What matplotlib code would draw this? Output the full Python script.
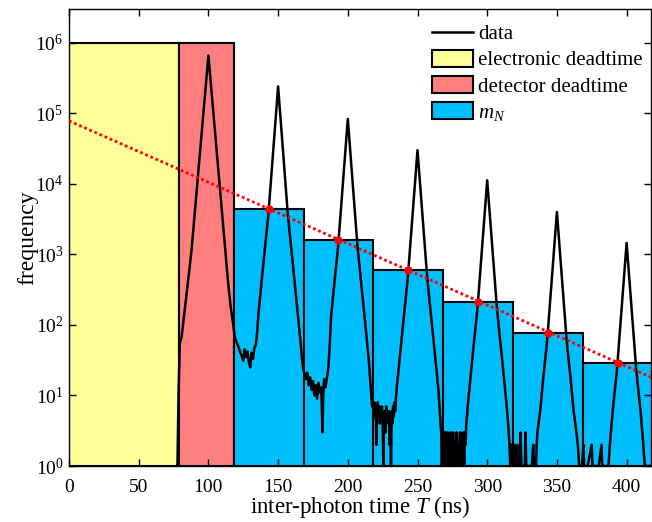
import matplotlib
matplotlib.use("Agg")
import matplotlib.pyplot as plt
import numpy as np
from matplotlib.lines import Line2D
from matplotlib.patches import Patch
from matplotlib.ticker import LogLocator, LogFormatterMathtext, NullLocator

plt.rcParams['font.family'] = ['Liberation Serif', 'DejaVu Serif']
plt.rcParams['mathtext.fontset'] = 'custom'
plt.rcParams['mathtext.rm'] = 'Liberation Serif'
plt.rcParams['mathtext.it'] = 'Liberation Serif:italic'
plt.rcParams['font.size'] = 14

# histogram bins (ns) and their heights
bar_edges = [0, 79, 118.3, 168.3, 218.3, 268.4, 318.5, 368.6, 418.7]
bar_heights = [1e6, 1e6, 4400, 1600, 590, 214, 76, 29]
bar_colors = ['#ffff99', '#ff7f7f', '#00bfff', '#00bfff', '#00bfff',
              '#00bfff', '#00bfff', '#00bfff']

# exponential fit (straight on log axis)
fit_x = [0, 418]
fit_y = [7.8e4, 18]

# measured inter-photon histogram
data_x = [77.7, 77.8, 78.6, 79.5, 80.8, 82, 84, 86, 88, 92, 96,
          100, 104, 108, 112, 114, 116, 118,
          119, 120, 121, 122, 123, 124, 125, 126, 127, 128, 129, 130, 131, 132, 133, 134,
          135, 136, 138, 140, 143,
          150, 157, 160, 162, 164, 166,
          167, 168, 169, 170, 171, 172, 173, 174, 175, 176, 177, 178, 179, 180, 181, 181.8,
          182.5, 183, 184, 185, 186, 187, 188, 190, 193,
          200, 207, 210, 212, 214, 215, 216,
          216.5, 217, 217.5, 218, 218.5, 219, 219.5, 220, 220.5, 221, 221.5, 222, 222.5,
          223, 223.5, 224, 224.5, 225, 225.5, 226, 226.5, 227, 227.5, 228, 228.5, 229,
          229.5, 230, 230.5, 231, 231.5, 232, 232.5, 233, 233.5, 234, 234.5, 235, 235.5,
          236, 238, 240, 243,
          250, 257, 260, 262, 264, 265, 266,
          266.5, 267, 267.5, 268, 268.5, 269, 269.5, 270, 270.5, 271, 271.5, 272, 272.5,
          273, 273.5, 274, 274.5, 275, 275.5, 276, 276.5, 277, 277.5, 278, 278.5, 279,
          279.5, 280, 280.5, 281, 281.5, 282, 282.5, 283, 283.5, 284, 284.5, 285, 285.5,
          286, 288, 290, 293,
          300, 307, 310, 312, 314, 315, 316,
          316.5, 317, 317.5, 318, 318.5, 319, 319.5, 320, 321, 321.5, 322, 323.5, 324,
          324.5, 326, 327, 327.5, 328, 330, 332, 333, 333.5, 335, 335.5,
          336, 338, 340, 343,
          350, 357, 360, 362, 364, 365, 366,
          368, 369, 369.5, 372, 375, 375.5, 380, 382, 382.5, 385,
          386, 387, 388, 390, 393,
          400, 407, 410, 412, 413, 416, 420]
data_y = [1, 1, 11, 55, 68, 110, 240, 525, 1200, 9800, 81000,
          6.6e5, 81000, 9800, 1200, 426, 178, 95,
          66, 58, 52, 46, 40, 36, 31, 45, 35, 42, 30, 25, 40, 33, 47, 52,
          80, 151, 380, 955, 3630,
          2.4e5, 3630, 955, 380, 151, 60,
          35, 24, 20, 17, 21, 14, 18, 12, 16, 10, 14, 9, 15, 11, 13, 3,
          12, 17, 13, 18, 24, 50, 132, 331, 1260,
          83000, 1260, 331, 132, 52, 33, 17,
          12, 9, 7, 8, 6, 8, 5, 6, 2, 6, 8, 5, 7,
          4, 6, 5, 7, 4, 1, 5, 6, 3, 7, 5, 6, 4,
          6, 2, 5, 1, 6, 4, 7, 5, 8, 6, 9, 12, 16,
          19, 48, 120, 457,
          30000, 457, 120, 48, 19, 12, 6,
          4, 3, 1, 3, 2, 3, 1, 3, 2, 1, 3, 2, 1,
          2, 3, 1, 2, 1, 3, 2, 1, 2, 1, 3, 1, 2,
          1, 2, 3, 1, 2, 1, 3, 2, 1, 3, 2, 4, 5,
          7, 18, 45, 170,
          11200, 170, 45, 18, 7, 4, 2,
          1, 2, 1, 2, 1, 1, 2, 1, 1, 2, 1, 1, 3,
          1, 1, 1, 3, 1, 1, 1, 2, 1, 1, 2,
          3, 6, 16, 60,
          3980, 60, 16, 6, 3, 2, 1,
          1, 2, 1, 1, 2, 1, 1, 2, 1, 1,
          1, 1, 2, 6, 22,
          1450, 22, 6, 2, 1, 1, 1]

fig = plt.figure(figsize=(6.52, 5.22), dpi=100)
ax = fig.add_axes([69 / 652, 56 / 522, 582 / 652, 457 / 522])

lefts = bar_edges[:-1]
widths = np.diff(bar_edges)
ax.bar(lefts, np.array(bar_heights) - 1, width=widths, bottom=1, align='edge',
       color=bar_colors, edgecolor='black', linewidth=1.5, zorder=1)

ax.plot(data_x, data_y, color='black', linewidth=1.8, zorder=2)

centers = np.array(lefts[2:]) + widths[2:] / 2
ax.plot(fit_x, fit_y, color='red', linestyle=(0, (1, 1)), linewidth=2.0, zorder=3)
ax.plot(centers, bar_heights[2:], 'o', color='red', markersize=5, zorder=4)

ax.set_yscale('log')
ax.set_xlim(0, 417.5)
ax.set_ylim(1, 3e6)
ax.set_xticks(np.arange(0, 401, 50))
ax.yaxis.set_major_locator(LogLocator(base=10, numticks=10))
ax.yaxis.set_major_formatter(LogFormatterMathtext())
ax.yaxis.set_minor_locator(NullLocator())
ax.tick_params(axis='both', direction='in', top=True, right=True, length=5, width=1,
               labelsize=14)
ax.tick_params(axis='x', pad=9)
ax.tick_params(axis='y', pad=4)
for s in ax.spines.values():
    s.set_linewidth(1)

ax.set_xlabel('inter-photon time $T$ (ns)', fontsize=16.5, labelpad=-1)
ax.set_ylabel('frequency', fontsize=17, labelpad=-2)

handles = [Line2D([], [], color='black', linewidth=1.8),
           Patch(facecolor='#ffff99', edgecolor='black', linewidth=1.5),
           Patch(facecolor='#ff7f7f', edgecolor='black', linewidth=1.5),
           Patch(facecolor='#00bfff', edgecolor='black', linewidth=1.5)]
labels = ['data', 'electronic deadtime', 'detector deadtime', '$m_N$']
ax.legend(handles, labels, loc='upper left', bbox_to_anchor=(0.623, 0.968),
          frameon=False, fontsize=15, handlelength=2.0, handleheight=0.9,
          handletextpad=0.25, labelspacing=0.25, borderpad=0, borderaxespad=0)

fig.savefig('out.png', dpi=100)
